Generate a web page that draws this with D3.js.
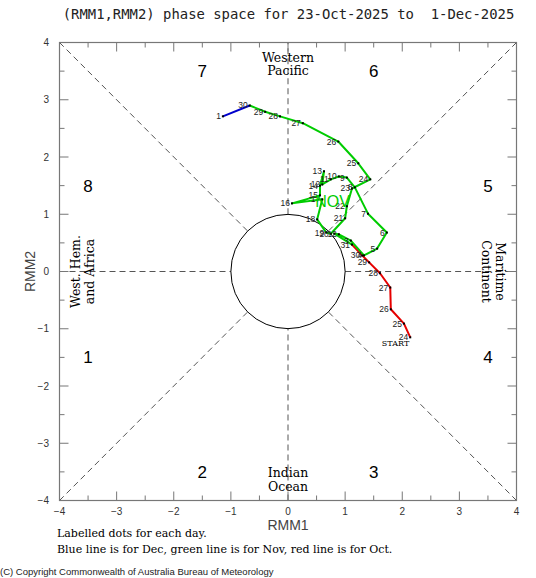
<!DOCTYPE html>
<html lang="en">
<head>
<meta charset="UTF-8">
<title>RMM phase space</title>
<script src="https://cdnjs.cloudflare.com/ajax/libs/d3/7.8.5/d3.min.js"></script>
<style>
  body { margin: 0; background: #fff; }
  svg { display: block; }
</style>
</head>
<body>
<svg id="chart" width="536" height="578"></svg>
<script>
// Daily (RMM1, RMM2) values
const octDays  = [24, 25, 26, 27, 28, 29, 30, 31];
const octRmm1  = [2.14, 2.03, 1.80, 1.79, 1.61, 1.42, 1.30, 1.12];
const octRmm2  = [-1.15, -0.91, -0.66, -0.28, -0.03, 0.16, 0.28, 0.47];

const novDays  = d3.range(1, 31);
const novRmm1  = [0.81, 0.89, 1.10, 1.33, 1.56, 1.73, 1.40, 1.17, 1.03, 0.89,
                  0.75, 0.60, 0.63, 0.56, 0.56, 0.07, 0.60, 0.51, 0.67, 0.75,
                  1.00, 1.03, 1.12, 1.44, 1.23, 0.88, 0.26, -0.14, -0.40, -0.67];
const novRmm2  = [0.66, 0.65, 0.54, 0.28, 0.40, 0.68, 1.01, 1.47, 1.64, 1.66,
                  1.61, 1.52, 1.75, 1.50, 1.33, 1.19, 1.26, 0.91, 0.68, 0.66,
                  0.93, 1.14, 1.45, 1.61, 1.89, 2.27, 2.59, 2.71, 2.79, 2.90];

const decDays  = [1];
const decRmm1  = [-1.14];
const decRmm2  = [2.71];

const tickValues = d3.range(-4, 5);
const phaseLabels = [
  {p: "1", x: -3.5, y: -1.5}, {p: "2", x: -1.5, y: -3.5},
  {p: "3", x: 1.5, y: -3.5},  {p: "4", x: 3.5, y: -1.5},
  {p: "5", x: 3.5, y: 1.5},   {p: "6", x: 1.5, y: 3.5},
  {p: "7", x: -1.5, y: 3.5},  {p: "8", x: -3.5, y: 1.5}
];

const svg = d3.select("#chart");
const x = d3.scaleLinear().domain([-4, 4]).range([59.5, 516.5]);
const y = d3.scaleLinear().domain([-4, 4]).range([500.5, 42.5]);

// title
svg.append("text")
  .attr("x", 288.5).attr("y", 19)
  .attr("text-anchor", "middle")
  .style("font-family", "DejaVu Sans Mono").style("font-size", "13.9px")
  .style("white-space", "pre")
  .attr("fill", "#222")
  .text("(RMM1,RMM2) phase space for 23-Oct-2025 to  1-Dec-2025");

// dashed phase dividers
const dash = svg.append("g").attr("stroke", "#555").attr("stroke-width", 1)
  .attr("stroke-dasharray", "6,4").attr("fill", "none");
const r = Math.SQRT1_2;
[[-4, -4, -r, -r], [4, 4, r, r], [-4, 4, -r, r], [4, -4, r, -r],
 [-4, 0, -1, 0], [1, 0, 4, 0], [0, -4, 0, -1], [0, 1, 0, 4]].forEach(s => {
  dash.append("line")
    .attr("x1", x(s[0])).attr("y1", y(s[1]))
    .attr("x2", x(s[2])).attr("y2", y(s[3]));
});

// unit circle
svg.append("circle")
  .attr("cx", x(0)).attr("cy", y(0))
  .attr("r", x(1) - x(0))
  .attr("fill", "none").attr("stroke", "#000").attr("stroke-width", 1);

// frame and ticks
svg.append("rect")
  .attr("x", x(-4)).attr("y", y(4))
  .attr("width", x(4) - x(-4)).attr("height", y(-4) - y(4))
  .attr("fill", "none").attr("stroke", "#777").attr("stroke-width", 1.2);

const minor = d3.range(-3.5, 4, 1);
const tk = svg.append("g").attr("stroke", "#777").attr("stroke-width", 1);
function ticks(vals, len) {
  vals.forEach(v => {
    tk.append("line").attr("x1", x(v)).attr("x2", x(v)).attr("y1", y(-4)).attr("y2", y(-4) - len);
    tk.append("line").attr("x1", x(v)).attr("x2", x(v)).attr("y1", y(4)).attr("y2", y(4) + len);
    tk.append("line").attr("y1", y(v)).attr("y2", y(v)).attr("x1", x(-4)).attr("x2", x(-4) + len);
    tk.append("line").attr("y1", y(v)).attr("y2", y(v)).attr("x1", x(4)).attr("x2", x(4) - len);
  });
}
ticks(tickValues.slice(1, -1), 9);
ticks(minor, 5);

const tickFont = sel => sel.style("font-family", "Liberation Sans").style("font-size", "10px").attr("fill", "#333");
svg.append("g").selectAll("text").data(tickValues).join("text")
  .attr("x", d => x(d)).attr("y", 515)
  .attr("text-anchor", "middle").call(tickFont)
  .text(d => d < 0 ? "\u2212" + (-d) : d);
svg.append("g").selectAll("text").data(tickValues).join("text")
  .attr("x", 49).attr("y", d => y(d) + 3.5)
  .attr("text-anchor", "end").call(tickFont)
  .text(d => d < 0 ? "\u2212" + (-d) : d);

// axis titles
svg.append("text").attr("x", x(0)).attr("y", 530).attr("text-anchor", "middle")
  .style("font-family", "Liberation Sans Narrow, Liberation Sans").style("font-size", "14px").attr("fill", "#444")
  .text("RMM1");
svg.append("text").attr("transform", `translate(35,${y(0)}) rotate(-90)`)
  .attr("text-anchor", "middle")
  .style("font-family", "Liberation Sans Narrow, Liberation Sans").style("font-size", "14px").attr("fill", "#444")
  .text("RMM2");

// phase numbers
svg.append("g").selectAll("text").data(phaseLabels).join("text")
  .attr("x", d => x(d.x)).attr("y", d => y(d.y) + 6)
  .attr("text-anchor", "middle")
  .style("font-family", "Liberation Sans").style("font-size", "17px").attr("fill", "#000")
  .text(d => d.p);

// region names
const serif = sel => sel.style("font-family", "DejaVu Serif").style("font-size", "12.5px").attr("fill", "#000");
svg.append("text").attr("x", x(0)).attr("y", 62).attr("text-anchor", "middle").call(serif).text("Western");
svg.append("text").attr("x", x(0)).attr("y", 75).attr("text-anchor", "middle").call(serif).text("Pacific");
svg.append("text").attr("x", x(0)).attr("y", 477).attr("text-anchor", "middle").call(serif).text("Indian");
svg.append("text").attr("x", x(0)).attr("y", 491).attr("text-anchor", "middle").call(serif).text("Ocean");
svg.append("text").attr("transform", `translate(80,${y(0)}) rotate(-90)`).attr("text-anchor", "middle").call(serif).text("West. Hem.");
svg.append("text").attr("transform", `translate(94,${y(0)}) rotate(-90)`).attr("text-anchor", "middle").call(serif).text("and Africa");
svg.append("text").attr("transform", `translate(496,${y(0)}) rotate(90)`).attr("text-anchor", "middle").call(serif).text("Maritime");
svg.append("text").attr("transform", `translate(482,${y(0)}) rotate(90)`).attr("text-anchor", "middle").call(serif).text("Continent");

// trajectory
const pts = (days, a, b) => days.map((d, i) => ({day: d, x: a[i], y: b[i]}));
const oct = pts(octDays, octRmm1, octRmm2);
const nov = pts(novDays, novRmm1, novRmm2);
const dec = pts(decDays, decRmm1, decRmm2);

const line = d3.line().x(d => x(d.x)).y(d => y(d.y));
[[oct, "#e60000"], [[oct[oct.length - 1]].concat(nov), "#00cc00"],
 [[nov[nov.length - 1]].concat(dec), "#0000cc"]].forEach(([data, col]) => {
  svg.append("path").datum(data).attr("d", line)
    .attr("fill", "none").attr("stroke", col).attr("stroke-width", 2)
    .attr("stroke-linejoin", "round");
});

const all = oct.concat(nov, dec);
svg.append("g").selectAll("rect").data(all).join("rect")
  .attr("x", d => x(d.x) - 1).attr("y", d => y(d.y) - 1)
  .attr("width", 2).attr("height", 2).attr("fill", "#000");
svg.append("g").selectAll("text").data(all).join("text")
  .attr("x", d => x(d.x) - 2).attr("y", d => y(d.y) + 3)
  .attr("text-anchor", "end")
  .style("font-family", "Liberation Sans").style("font-size", "8.5px").attr("fill", "#222")
  .text(d => d.day);

svg.append("text").attr("x", x(oct[0].x) - 1).attr("y", y(oct[0].y) + 9)
  .attr("text-anchor", "end")
  .style("font-family", "DejaVu Serif").style("font-size", "8px").attr("fill", "#000")
  .text("START");

svg.append("text").attr("x", x(0.78)).attr("y", y(1.13))
  .attr("text-anchor", "middle")
  .style("font-family", "Liberation Sans Narrow, Liberation Sans").style("font-size", "16px").attr("fill", "#00cc00")
  .text("NOV");

// notes
const note = sel => sel.style("font-family", "DejaVu Serif").style("font-size", "11px").attr("fill", "#000");
svg.append("text").attr("x", 57).attr("y", 537).call(note).text("Labelled dots for each day.");
svg.append("text").attr("x", 57).attr("y", 553).call(note)
  .text("Blue line is for Dec, green line is for Nov, red line is for Oct.");
svg.append("text").attr("x", 0).attr("y", 575)
  .style("font-family", "Liberation Sans").style("font-size", "9.5px").attr("fill", "#222")
  .text("(C) Copyright Commonwealth of Australia Bureau of Meteorology");
</script>
</body>
</html>
